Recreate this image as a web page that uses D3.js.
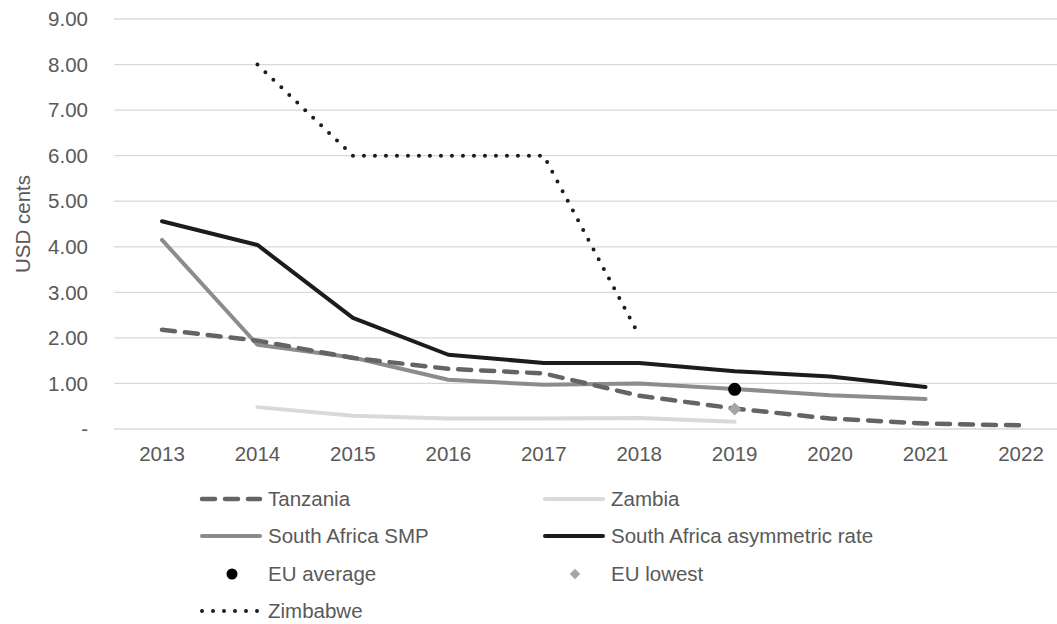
<html>
<head>
  <title>USD cents</title>
  <script src="https://d3js.org/d3.v7.min.js"></script>
  <style>
    body { margin: 0; background: white; }
    text { font-family: "Liberation Sans", Arial, sans-serif; }
  </style>
</head>
<body>
<script>

// data
var years = ["2013","2014","2015","2016","2017","2018","2019","2020","2021","2022"];
var yTicks = [0, 1, 2, 3, 4, 5, 6, 7, 8, 9];

var tanzania   = [2.18, 1.94, 1.56, 1.32, 1.22, 0.73, 0.45, 0.23, 0.12, 0.08];
var zambia     = [null, 0.48, 0.29, 0.23, 0.23, 0.24, 0.16, null, null, null];
var saSMP      = [4.15, 1.85, 1.57, 1.08, 0.97, 1.00, 0.88, 0.74, 0.66, null];
var saAsym     = [4.56, 4.04, 2.44, 1.63, 1.45, 1.45, 1.27, 1.15, 0.92, null];
var zimbabwe   = [null, 8.00, 6.00, 6.00, 6.00, 2.05, null, null, null, null];
var euAverage  = [{year: "2019", value: 0.87}];
var euLowest   = [{year: "2019", value: 0.44}];

var width = 1057,
    height = 624,
    fontSize = 20.5;

var svg = d3.select("body")
  .append("svg")
  .attr("width", width)
  .attr("height", height);

var x = d3.scalePoint()
  .domain(years)
  .range([162, 1021]);

var y = d3.scaleLinear()
  .domain([0, 9])
  .range([429, 19]);

var textColor = "#595959";

// gridlines
svg.append("g")
  .selectAll("line")
  .data(yTicks)
  .enter()
  .append("line")
  .attr("x1", 114)
  .attr("x2", 1068)
  .attr("y1", function(d) { return y(d); })
  .attr("y2", function(d) { return y(d); })
  .attr("stroke", "#d9d9d9")
  .attr("stroke-width", 1.3);

// y tick labels
svg.append("g")
  .selectAll("text")
  .data(yTicks)
  .enter()
  .append("text")
  .attr("x", 88)
  .attr("y", function(d) { return y(d); })
  .attr("dy", "0.35em")
  .attr("text-anchor", "end")
  .attr("font-size", fontSize)
  .attr("fill", textColor)
  .text(function(d) { return d === 0 ? "-" : d3.format(".2f")(d); });

// x tick labels
svg.append("g")
  .selectAll("text")
  .data(years)
  .enter()
  .append("text")
  .attr("x", function(d) { return x(d); })
  .attr("y", 454)
  .attr("dy", "0.35em")
  .attr("text-anchor", "middle")
  .attr("font-size", fontSize)
  .attr("fill", textColor)
  .text(function(d) { return d; });

// y axis title
svg.append("text")
  .attr("transform", "translate(23,224)rotate(-90)")
  .attr("dy", "0.35em")
  .attr("text-anchor", "middle")
  .attr("font-size", fontSize)
  .attr("fill", textColor)
  .text("USD cents");

var series = [
  {name: "Tanzania", values: tanzania, color: "#646464", width: 4.5, dash: "13 10"},
  {name: "Zambia", values: zambia, color: "#d9d9d9", width: 4, dash: null},
  {name: "South Africa SMP", values: saSMP, color: "#8c8c8c", width: 4, dash: null},
  {name: "South Africa asymmetric rate", values: saAsym, color: "#1c1c1c", width: 4, dash: null},
  {name: "Zimbabwe", values: zimbabwe, color: "#1c1c1c", width: 4, dash: "0 11"}
];

var line = d3.line()
  .defined(function(d) { return d.v !== null; })
  .x(function(d) { return x(d.year); })
  .y(function(d) { return y(d.v); });

// draw order: zambia, smp, tanzania, asym, zimbabwe
var drawOrder = [1, 2, 0, 3, 4];

svg.append("g")
  .selectAll("path")
  .data(drawOrder.map(function(i) { return series[i]; }))
  .enter()
  .append("path")
  .attr("fill", "none")
  .attr("stroke", function(d) { return d.color; })
  .attr("stroke-width", function(d) { return d.width; })
  .attr("stroke-dasharray", function(d) { return d.dash; })
  .attr("stroke-linecap", "round")
  .attr("stroke-linejoin", "round")
  .attr("d", function(d) {
    return line(d.values.map(function(v, i) { return {year: years[i], v: v}; }));
  });

// EU average marker
svg.append("g")
  .selectAll("circle")
  .data(euAverage)
  .enter()
  .append("circle")
  .attr("cx", function(d) { return x(d.year); })
  .attr("cy", function(d) { return y(d.value); })
  .attr("r", 6.5)
  .attr("fill", "#000");

// EU lowest marker
var diamond = d3.symbol().type(d3.symbolDiamond2).size(110);
svg.append("g")
  .selectAll("path")
  .data(euLowest)
  .enter()
  .append("path")
  .attr("transform", function(d) { return "translate(" + x(d.year) + "," + y(d.value) + ")"; })
  .attr("d", diamond)
  .attr("fill", "#a6a6a6");

// legend
var legendItems = [
  {name: "Tanzania", type: "line", s: series[0], col: 0, row: 0},
  {name: "Zambia", type: "line", s: series[1], col: 1, row: 0},
  {name: "South Africa SMP", type: "line", s: series[2], col: 0, row: 1},
  {name: "South Africa asymmetric rate", type: "line", s: series[3], col: 1, row: 1},
  {name: "EU average", type: "circle", col: 0, row: 2},
  {name: "EU lowest", type: "diamond", col: 1, row: 2},
  {name: "Zimbabwe", type: "line", s: series[4], col: 0, row: 3}
];

var colX = [200, 543],
    rowY = [499, 536, 574, 611],
    sampleW = 62;

var legend = svg.append("g")
  .selectAll("g")
  .data(legendItems)
  .enter()
  .append("g")
  .attr("transform", function(d) { return "translate(" + colX[d.col] + "," + rowY[d.row] + ")"; });

legend.each(function(d) {
  var g = d3.select(this);
  if (d.type === "line") {
    g.append("line")
      .attr("x1", 2)
      .attr("x2", sampleW - 2)
      .attr("stroke", d.s.color)
      .attr("stroke-width", d.s.width)
      .attr("stroke-dasharray", d.s.dash)
      .attr("stroke-linecap", "round");
  } else if (d.type === "circle") {
    g.append("circle")
      .attr("cx", sampleW / 2 + 1)
      .attr("r", 5.5)
      .attr("fill", "#000");
  } else {
    g.append("path")
      .attr("transform", "translate(" + (sampleW / 2 + 1) + ",0)")
      .attr("d", d3.symbol().type(d3.symbolDiamond2).size(70))
      .attr("fill", "#a6a6a6");
  }
  g.append("text")
    .attr("x", sampleW + 6)
    .attr("dy", "0.35em")
    .attr("font-size", fontSize)
    .attr("fill", textColor)
    .text(d.name);
});

</script>
</body>
</html>
